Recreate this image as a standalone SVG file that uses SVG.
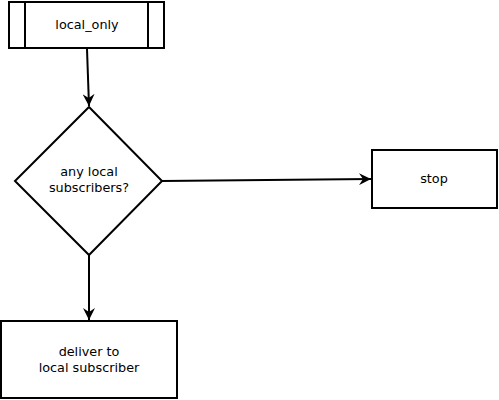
<svg xmlns="http://www.w3.org/2000/svg" width="499" height="400" viewBox="0 0 499 400">
<style>
.n{fill:#fff;stroke:#000;stroke-width:2}
.t{font-family:"DejaVu Sans",sans-serif;font-size:12.8px;text-anchor:middle;fill:#000}
.c{stroke:#000;stroke-width:2;fill:none;marker-end:url(#a)}
</style>
<defs>
<marker id="a" markerWidth="14" markerHeight="12" refX="12" refY="6" orient="auto" markerUnits="userSpaceOnUse">
<path d="M0,0 L12,6 L0,12 L4,6 Z" fill="#000"/>
</marker>
</defs>
<rect width="499" height="400" fill="#fff"/>
<g id="connectors">
<line class="c" x1="87" y1="49" x2="89" y2="106"/>
<line class="c" x1="162" y1="181" x2="371" y2="179"/>
<line class="c" x1="89" y1="255" x2="89" y2="320"/>
</g>
<g id="local_only">
<rect class="n" x="9" y="2" width="155" height="46"/>
<line x1="25" y1="2" x2="25" y2="48" stroke="#000" stroke-width="2"/>
<line x1="148" y1="2" x2="148" y2="48" stroke="#000" stroke-width="2"/>
<text class="t" x="87" y="29">local_only</text>
</g>
<g id="any_local">
<polygon class="n" points="89,107 162,181 89,255 15,181"/>
<text class="t" x="89" y="176">any local</text>
<text class="t" x="89" y="192">subscribers?</text>
</g>
<g id="stop">
<rect class="n" x="372" y="150" width="125" height="58"/>
<text class="t" x="434" y="183">stop</text>
</g>
<g id="deliver">
<rect class="n" x="1" y="321" width="176" height="77"/>
<text class="t" x="89" y="356">deliver to</text>
<text class="t" x="89" y="372">local subscriber</text>
</g>
</svg>
